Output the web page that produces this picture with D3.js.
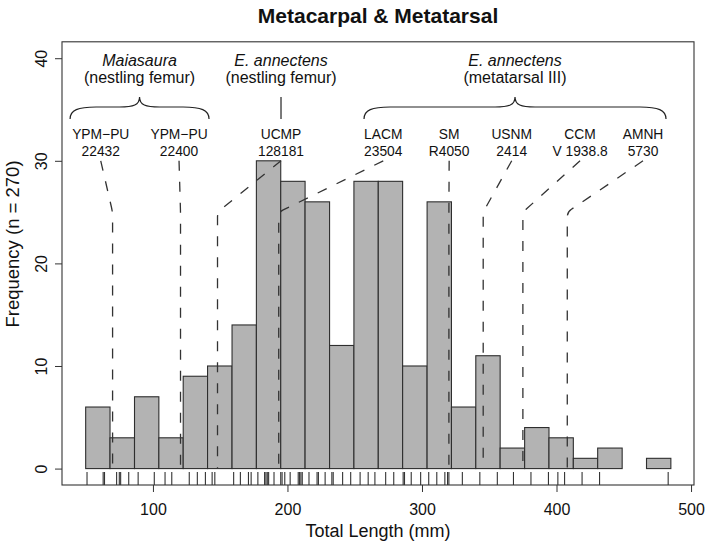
<!DOCTYPE html>
<html>
<head>
<meta charset="utf-8">
<script src="https://cdn.jsdelivr.net/npm/d3@7"></script>
<style>
body { margin: 0; background: #fff; }
text { font-family: "Liberation Sans", Arial, sans-serif; fill: #111; }
</style>
</head>
<body>
<div id="my_dataviz"></div>
<script>
// histogram bins (mm) and counts
var breaks = [50, 68.1, 86.3, 104.4, 122.5, 140.6, 158.8, 176.9, 195, 213.1, 231.3, 249.4,
              267.5, 285.6, 303.8, 321.9, 340, 358.1, 376.3, 394.4, 412.5, 430.6, 448.8, 466.9, 485];
var counts = [6, 3, 7, 3, 9, 10, 14, 30, 28, 26, 12, 28, 28, 10, 26, 6, 11, 2, 4, 3, 1, 2, 0, 1];

// rug of individual lengths (mm)
var rugValues = [51, 63, 64, 73, 75, 76, 82, 89, 101, 109, 114, 127, 133, 139, 144, 146,
                 160, 165, 171, 173, 178, 183, 184, 185, 186, 190, 195, 196, 198, 202, 208, 209,
                 210, 211, 216, 222, 223, 228, 233, 234, 241, 247, 254, 260, 265, 273, 279, 286,
                 287, 292, 299, 305, 311, 317, 319, 320, 330, 343, 356, 368, 381, 394, 401, 406,
                 419, 432, 483];

// specimens shown on top
var specimenIds = ["YPM\u2212PU", "YPM\u2212PU", "UCMP", "LACM", "SM", "USNM", "CCM", "AMNH"];
var specimenNums = ["22432", "22400", "128181", "23504", "R4050", "2414", "V 1938.8", "5730"];
var specimenLength = [70, 120.5, 148, 193.5, 320, 345.5, 375, 408];
var labelAt = [61.2, 119.4, 195.2, 271.2, 320.2, 366.7, 417.5, 464.3];

// groups
var groupNames = ["Maiasaura", "E. annectens", "E. annectens"];
var groupParts = ["(nestling femur)", "(nestling femur)", "(metatarsal III)"];
var groupFrom = [38.4, 195.2, 256.9];
var groupTo = [141.7, 195.2, 481.4];

var xTicks = [100, 200, 300, 400, 500];
var yTicks = [0, 10, 20, 30, 40];

var W = 709, H = 548;
var box = {left: 62, right: 694, top: 41.8, bottom: 485};

var svg = d3.select("#my_dataviz").append("svg")
    .attr("width", W).attr("height", H);

var x = d3.scaleLinear().domain([32.4, 502.2]).range([box.left, box.right]);
var y = d3.scaleLinear().domain([-1.6, 41.6]).range([box.bottom, box.top]);

// title
svg.append("text")
    .attr("x", (box.left + box.right) / 2).attr("y", 23)
    .attr("text-anchor", "middle")
    .style("font-size", "21px").style("font-weight", "bold")
    .text("Metacarpal & Metatarsal");

// bars
var bins = counts.map(function (c, i) { return {x0: breaks[i], x1: breaks[i + 1], n: c}; });
svg.append("g").selectAll("rect")
    .data(bins).enter().append("rect")
    .attr("x", function (d) { return x(d.x0); })
    .attr("width", function (d) { return x(d.x1) - x(d.x0); })
    .attr("y", function (d) { return y(d.n); })
    .attr("height", function (d) { return y(0) - y(d.n); })
    .style("fill", "#b3b3b3")
    .style("stroke", "#2e2e2e")
    .style("stroke-width", 1.1);

// rug
svg.append("g").selectAll("line")
    .data(rugValues).enter().append("line")
    .attr("x1", function (d) { return x(d); }).attr("x2", function (d) { return x(d); })
    .attr("y1", box.bottom).attr("y2", box.bottom - 13)
    .style("stroke", "#333").style("stroke-width", 1.1);

// dashed leader lines
var r = 5;
svg.append("g").selectAll("path")
    .data(specimenLength).enter().append("path")
    .attr("d", function (d, i) {
        var sx = x(labelAt[i]), sy = y(30), bx = x(d), by = y(25), ey = y(0);
        var dx = sx - bx, dy = sy - by, len = Math.sqrt(dx * dx + dy * dy);
        if (len < 1) return "M" + bx + "," + sy + "L" + bx + "," + ey;
        var ax = bx + r * dx / len, ay = by + r * dy / len;
        return "M" + sx + "," + sy + "L" + ax + "," + ay +
               "Q" + bx + "," + by + " " + bx + "," + (by + r) + "L" + bx + "," + ey;
    })
    .style("fill", "none").style("stroke", "#333")
    .style("stroke-width", 1.3).style("stroke-dasharray", "10,11");

// specimen labels
var lab = svg.append("g").selectAll("text")
    .data(specimenIds).enter().append("text")
    .attr("text-anchor", "middle")
    .style("font-size", "13.8px");
lab.append("tspan")
    .attr("x", function (d, i) { return x(labelAt[i]); }).attr("y", 139.3)
    .text(function (d) { return d; });
lab.append("tspan")
    .attr("x", function (d, i) { return x(labelAt[i]); }).attr("y", 156)
    .text(function (d, i) { return specimenNums[i]; });

// braces / connector
function brace(x1, x2, yEnd, yMid, yPeak) {
    var xc = (x1 + x2) / 2, q = 26, c = 20;
    return "M" + x1 + "," + yEnd +
        "C" + x1 + "," + (yMid + 3) + " " + (x1 + 8) + "," + yMid + " " + (x1 + q) + "," + yMid +
        "L" + (xc - c) + "," + yMid +
        "C" + (xc - 6) + "," + yMid + " " + xc + "," + (yMid - 2) + " " + xc + "," + yPeak +
        "C" + xc + "," + (yMid - 2) + " " + (xc + 6) + "," + yMid + " " + (xc + c) + "," + yMid +
        "L" + (x2 - q) + "," + yMid +
        "C" + (x2 - 8) + "," + yMid + " " + x2 + "," + (yMid + 3) + " " + x2 + "," + yEnd;
}
groupFrom.forEach(function (g, i) {
    var x1 = x(g), x2 = x(groupTo[i]);
    var p = svg.append("path").style("fill", "none").style("stroke", "#222").style("stroke-width", 1.2);
    if (x2 - x1 < 1) p.attr("d", "M" + x1 + ",97L" + x1 + ",119");
    else p.attr("d", brace(x1, x2, 119, 107, 97));
});

// group labels
var gl = svg.append("g").selectAll("text")
    .data(groupNames).enter().append("text")
    .attr("text-anchor", "middle")
    .style("font-size", "16px");
gl.append("tspan")
    .attr("x", function (d, i) { return x((groupFrom[i] + groupTo[i]) / 2); }).attr("y", 65.7)
    .style("font-style", "italic")
    .text(function (d) { return d; });
gl.append("tspan")
    .attr("x", function (d, i) { return x((groupFrom[i] + groupTo[i]) / 2); }).attr("y", 82.5)
    .text(function (d, i) { return groupParts[i]; });

// axes
var xAxis = svg.append("g")
    .attr("transform", "translate(0," + box.bottom + ")")
    .call(d3.axisBottom(x).tickValues(xTicks).tickSize(7).tickSizeOuter(0).tickFormat(d3.format("d")));
xAxis.select(".domain").remove();
xAxis.selectAll("line").style("stroke", "#333");
xAxis.selectAll("text").attr("y", 18.5).attr("dy", "0.71em")
    .style("font-size", "16px").style("font-family", "Liberation Sans, Arial, sans-serif").style("fill", "#111");

var yAxis = svg.append("g")
    .attr("transform", "translate(" + box.left + ",0)")
    .call(d3.axisLeft(y).tickValues(yTicks).tickSize(7).tickSizeOuter(0));
yAxis.select(".domain").remove();
yAxis.selectAll("line").style("stroke", "#333");
yAxis.selectAll("text")
    .attr("x", null).attr("dy", null)
    .attr("text-anchor", "middle")
    .attr("transform", "translate(-15,0) rotate(-90)")
    .style("font-size", "16px").style("font-family", "Liberation Sans, Arial, sans-serif").style("fill", "#111");

// box
svg.append("rect")
    .attr("x", box.left).attr("y", box.top)
    .attr("width", box.right - box.left).attr("height", box.bottom - box.top)
    .style("fill", "none").style("stroke", "#333").style("stroke-width", 1.1);

// axis titles
svg.append("text")
    .attr("x", (box.left + box.right) / 2).attr("y", 537)
    .attr("text-anchor", "middle").style("font-size", "18px")
    .text("Total Length (mm)");
svg.append("text")
    .attr("transform", "translate(19,244) rotate(-90)")
    .attr("text-anchor", "middle").style("font-size", "18.5px")
    .text("Frequency (n = 270)");
</script>
</body>
</html>
